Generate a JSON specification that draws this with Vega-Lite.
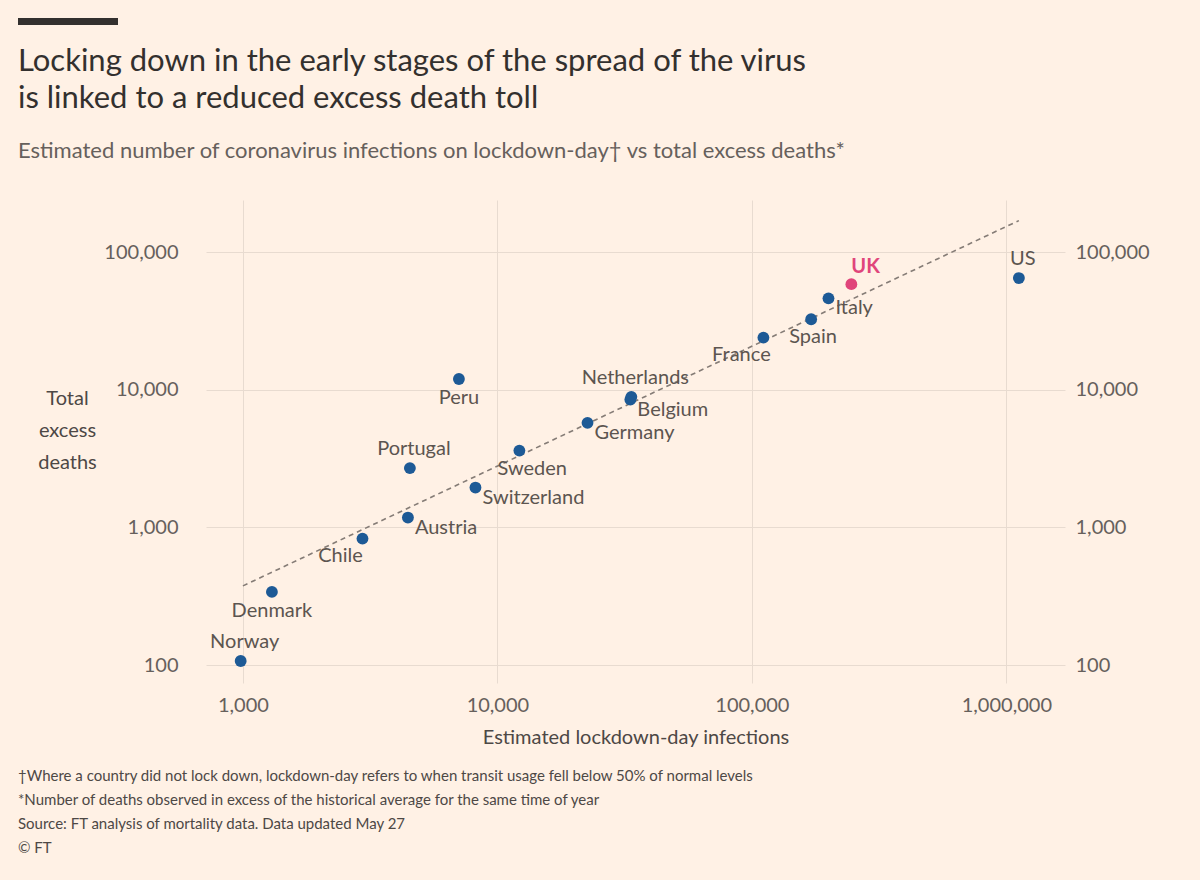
{
"$schema":"https://vega.github.io/schema/vega-lite/v6.json",
"width":859,"height":483,"autosize":{"type":"none"},
"padding":{"left":206,"top":200,"right":135,"bottom":197},
"background":"#fff1e5",
"config":{"view":{"stroke":null},"font":"Lato","text":{"font":"Lato"}},
"datasets":{
"pts":[
{"country":"Norway","inf":980,"deaths":107},
{"country":"Denmark","inf":1300,"deaths":340},
{"country":"Chile","inf":2950,"deaths":830},
{"country":"Austria","inf":4450,"deaths":1180},
{"country":"Portugal","inf":4530,"deaths":2700},
{"country":"Peru","inf":7060,"deaths":12000},
{"country":"Switzerland","inf":8200,"deaths":1950},
{"country":"Sweden","inf":12200,"deaths":3620},
{"country":"Germany","inf":22600,"deaths":5760},
{"country":"Belgium","inf":33300,"deaths":8500},
{"country":"Netherlands","inf":33600,"deaths":8900},
{"country":"France","inf":111000,"deaths":24000},
{"country":"Spain","inf":171000,"deaths":32600},
{"country":"Italy","inf":200000,"deaths":46300},
{"country":"UK","inf":246000,"deaths":58700},
{"country":"US","inf":1120000,"deaths":65000}],
"trend":[{"inf":1000,"deaths":376},{"inf":1120000,"deaths":170000}]
},
"layer":[
{"data":{"name":"trend"},"mark":{"type":"line","color":"#857c76","strokeDash":[5,4],"strokeWidth":1.6},
"encoding":{
"x":{"field":"inf","type":"quantitative","scale":{"type":"log","domain":[716,1700000],"nice":false},
"axis":{"values":[1000,10000,100000,1000000],"format":",","grid":true,"gridColor":"#e8dbd0","ticks":false,"domain":false,"labelFontSize":20,"labelColor":"#66605c","labelPadding":12,"title":"Estimated lockdown-day infections","titleFontSize":20,"titleFontWeight":"normal","titleColor":"#4d4845","titlePadding":12,"labelFont":"Lato","titleFont":"Lato"}},
"y":{"field":"deaths","type":"quantitative","scale":{"type":"log","domain":[74,240000],"nice":false},
"axis":{"orient":"left","values":[100,1000,10000,100000],"format":",","grid":true,"gridColor":"#e8dbd0","ticks":false,"domain":false,"labelFontSize":20,"labelColor":"#66605c","labelPadding":28,"title":["Total","excess","deaths"],"titleAngle":0,"titleAlign":"center","titleBaseline":"alphabetic","titleX":-139,"titleY":204,"titleLineHeight":32,"titleFontSize":20,"titleFontWeight":"normal","titleColor":"#4d4845","labelFont":"Lato","titleFont":"Lato"}}}},
{"data":{"name":"pts"},"mark":{"type":"circle","size":140,"opacity":1},
"encoding":{"x":{"field":"inf","type":"quantitative"},
"y":{"field":"deaths","type":"quantitative","axis":{"orient":"right","values":[100,1000,10000,100000],"format":",","grid":false,"ticks":false,"domain":false,"labelFontSize":20,"labelColor":"#66605c","labelPadding":10,"title":null,"labelFont":"Lato"}},
"color":{"condition":{"test":"datum.country==='UK'","value":"#e0457b"},"value":"#1d5a96"}}},
{"data":{"name":"pts"},"transform":[{"filter":"indexof(['Peru','Denmark'],datum.country)>=0"}],
"mark":{"type":"text","fontSize":20,"color":"#5c5550","dy":19},
"encoding":{"x":{"field":"inf","type":"quantitative"},"y":{"field":"deaths","type":"quantitative","axis":null},"text":{"field":"country"}}},
{"data":{"name":"pts"},"transform":[{"filter":"indexof(['Chile','France'],datum.country)>=0"}],
"mark":{"type":"text","fontSize":20,"color":"#5c5550","dx":-22,"dy":17},
"encoding":{"x":{"field":"inf","type":"quantitative"},"y":{"field":"deaths","type":"quantitative","axis":null},"text":{"field":"country"}}},
{"data":{"name":"pts"},"transform":[{"filter":"indexof(['Norway','Portugal','Netherlands','US'],datum.country)>=0"}],
"mark":{"type":"text","fontSize":20,"color":"#5c5550","dy":-19,"dx":4},
"encoding":{"x":{"field":"inf","type":"quantitative"},"y":{"field":"deaths","type":"quantitative","axis":null},"text":{"field":"country"}}},
{"data":{"name":"pts"},"transform":[{"filter":"indexof(['Austria','Switzerland','Germany','Belgium','Italy'],datum.country)>=0"}],
"mark":{"type":"text","fontSize":20,"color":"#5c5550","align":"left","dx":7,"dy":10},
"encoding":{"x":{"field":"inf","type":"quantitative"},"y":{"field":"deaths","type":"quantitative","axis":null},"text":{"field":"country"}}},
{"data":{"name":"pts"},"transform":[{"filter":"indexof(['Sweden','Spain'],datum.country)>=0"}],
"mark":{"type":"text","fontSize":20,"color":"#5c5550","align":"left","dx":-22,"dy":18},
"encoding":{"x":{"field":"inf","type":"quantitative"},"y":{"field":"deaths","type":"quantitative","axis":null},"text":{"field":"country"}}},
{"data":{"name":"pts"},"transform":[{"filter":"datum.country==='UK'"}],
"mark":{"type":"text","fontSize":20,"fontWeight":"bold","color":"#e0457b","align":"left","dx":0,"dy":-17},
"encoding":{"x":{"field":"inf","type":"quantitative"},"y":{"field":"deaths","type":"quantitative","axis":null},"text":{"field":"country"}}},
{"data":{"values":[{"a":1}]},"mark":{"type":"rect","color":"#33302e","x":-188,"x2":-88,"y":-182,"y2":-175},"encoding":{}},
{"data":{"values":[{"t":["Locking down in the early stages of the spread of the virus","is linked to a reduced excess death toll"]}]},
"mark":{"type":"text","align":"left","baseline":"alphabetic","fontSize":31,"lineHeight":37,"color":"#33302e","x":-188,"y":-129},
"encoding":{"text":{"field":"t"}}},
{"data":{"values":[{"t":"Estimated number of coronavirus infections on lockdown-day† vs total excess deaths*"}]},
"mark":{"type":"text","align":"left","baseline":"alphabetic","fontSize":22,"color":"#66605c","x":-188,"y":-42},
"encoding":{"text":{"field":"t"}}},
{"data":{"values":[{"t":["†Where a country did not lock down, lockdown-day refers to when transit usage fell below 50% of normal levels","*Number of deaths observed in excess of the historical average for the same time of year","Source: FT analysis of mortality data. Data updated May 27","© FT"]}]},
"mark":{"type":"text","align":"left","baseline":"alphabetic","fontSize":15,"lineHeight":24,"color":"#4d4845","x":-188,"y":581},
"encoding":{"text":{"field":"t"}}}
],
"resolve":{"axis":{"y":"independent"}}
}
